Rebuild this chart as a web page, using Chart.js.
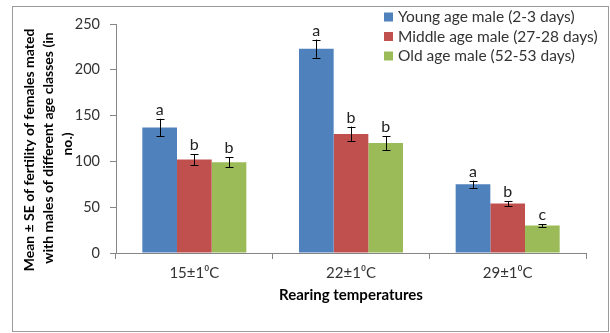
<!DOCTYPE html>
<html><head><meta charset="utf-8">
<script src="https://cdn.jsdelivr.net/npm/chart.js@4/dist/chart.umd.min.js"></script>
<style>html,body{margin:0;padding:0;background:#fff}#wrap{width:610px;height:333px}</style>
</head><body><div id="wrap"><canvas id="c" width="610" height="333"></canvas></div>
<script>
const categories = ['15±1⁰C', '22±1⁰C', '29±1⁰C'];
const seriesNames = ['Young age male (2-3 days)', 'Middle age male (27-28 days)', 'Old age male (52-53 days)'];
const young = [137, 223, 75];
const middle = [102, 130, 54];
const old = [99, 120, 30];
const youngSE = [9.5, 10, 4];
const middleSE = [6, 8, 2.5];
const oldSE = [5.5, 7.5, 1.5];
const youngLetters = ['a', 'a', 'a'];
const middleLetters = ['b', 'b', 'b'];
const oldLetters = ['b', 'b', 'c'];
const yTicks = [0, 50, 100, 150, 200, 250];
const yTitle = ['Mean ± SE of fertility of females mated', 'with males of different age classes (in', 'no.)'];
const xTitle = 'Rearing temperatures';

const colors = ['#4F81BD', '#C0504D', '#9BBB59'];
const seList = [youngSE, middleSE, oldSE];
const letterList = [youngLetters, middleLetters, oldLetters];

const extras = {
  id: 'extras',
  afterDatasetsDraw(chart) {
    const ctx = chart.ctx;
    const y = chart.scales.y;
    ctx.save();
    chart.data.datasets.forEach((ds, di) => {
      const meta = chart.getDatasetMeta(di);
      meta.data.forEach((bar, i) => {
        const v = ds.data[i], se = seList[di][i];
        const yt = y.getPixelForValue(v + se), yb = y.getPixelForValue(v - se);
        const x = Math.round(bar.x) + 0.5;
        ctx.strokeStyle = '#000'; ctx.lineWidth = 1;
        ctx.beginPath();
        ctx.moveTo(x, yt); ctx.lineTo(x, yb);
        ctx.moveTo(x - 4, Math.round(yt) + 0.5); ctx.lineTo(x + 4, Math.round(yt) + 0.5);
        ctx.moveTo(x - 4, Math.round(yb) + 0.5); ctx.lineTo(x + 4, Math.round(yb) + 0.5);
        ctx.stroke();
        ctx.fillStyle = '#222';
        ctx.font = '16px Lato';
        ctx.textAlign = 'center'; ctx.textBaseline = 'alphabetic';
        ctx.fillText(letterList[di][i], bar.x, yt - 4);
      });
    });
    // legend
    ctx.font = '15.5px Lato';
    ctx.textAlign = 'left'; ctx.textBaseline = 'middle';
    seriesNames.forEach((n, k) => {
      const cy = 17 + k * 19.5;
      ctx.fillStyle = colors[k];
      ctx.fillRect(384, cy - 4.5, 9, 9);
      ctx.fillStyle = '#333';
      ctx.fillText(n, 398, cy);
    });
    // y title
    ctx.fillStyle = '#000';
    ctx.font = 'bold 14px Lato';
    ctx.textAlign = 'center'; ctx.textBaseline = 'middle';
    const xs = [29, 48, 67];
    const ys = [150, 148, 144];
    yTitle.forEach((t, k) => {
      ctx.save();
      ctx.translate(xs[k], ys[k]);
      ctx.rotate(-Math.PI / 2);
      ctx.fillText(t, 0, 0);
      ctx.restore();
    });
    ctx.font = 'bold 15px Lato';
    ctx.fillText(xTitle, 351, 295);
    // frame
    ctx.strokeStyle = '#9a9a9a'; ctx.lineWidth = 1;
    ctx.strokeRect(12.5, 6.5, 596, 325);
    ctx.restore();
  }
};

new Chart(document.getElementById('c'), {
  type: 'bar',
  data: {
    labels: categories,
    datasets: [
      { label: seriesNames[0], data: young, backgroundColor: colors[0] },
      { label: seriesNames[1], data: middle, backgroundColor: colors[1] },
      { label: seriesNames[2], data: old, backgroundColor: colors[2] }
    ]
  },
  options: {
    responsive: false,
    animation: false,
    devicePixelRatio: 1,
    layout: { padding: { top: 24, right: 24, left: 0, bottom: 0 } },
    plugins: { legend: { display: false }, tooltip: { enabled: false } },
    datasets: { bar: { barPercentage: 1, categoryPercentage: 0.664 } },
    scales: {
      x: {
        afterFit(s) { s.height = 80; },
        grid: { offset: true, drawOnChartArea: false, tickLength: 6, color: '#868686' },
        border: { color: '#868686' },
        ticks: { color: '#333', font: { family: 'Lato', size: 15 }, padding: 5 }
      },
      y: {
        min: 0, max: 250,
        afterFit(s) { s.width = 116; },
        afterBuildTicks(s) { s.ticks = yTicks.map(v => ({ value: v })); },
        grid: { drawOnChartArea: false, tickLength: 6, color: '#868686' },
        border: { color: '#868686' },
        ticks: { color: '#333', font: { family: 'Lato', size: 14.5 }, padding: 10 }
      }
    }
  },
  plugins: [extras]
});
</script></body></html>
